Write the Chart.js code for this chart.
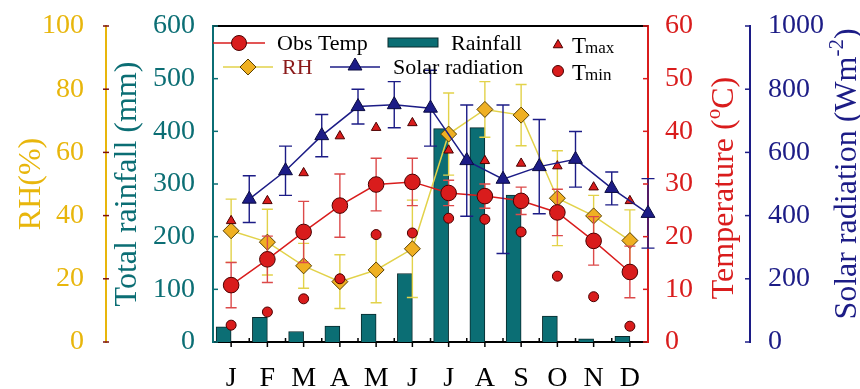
<!DOCTYPE html>
<html>
<head>
<meta charset="utf-8">
<script src="https://cdn.jsdelivr.net/npm/chart.js@4.4.1/dist/chart.umd.min.js"></script>
<style>
  html, body { margin: 0; padding: 0; background: #fff; }
</style>
</head>
<body>
<canvas id="climate" width="860" height="389"></canvas>
<script>
// ==========================
// DATA
// ==========================
const months     = ['J','F','M','A','M','J','J','A','S','O','N','D'];
const rainfall   = [29, 47, 20, 30, 53, 130, 405, 407, 279, 49, 6, 11];
const obsTemp    = [10.8, 15.7, 20.9, 25.9, 29.9, 30.4, 28.3, 27.7, 26.8, 24.6, 19.2, 13.3];
const obsTempErr = [4.3, 4.4, 5.8, 6.0, 5.0, 4.5, 2.4, 2.3, 2.6, 4.4, 4.6, 4.9];
const tMax       = [23.0, 26.8, 32.1, 39.1, 40.7, 41.6, 36.4, 34.4, 33.9, 33.4, 29.4, 26.8];
const tMin       = [3.2, 5.7, 8.2, 12.0, 20.4, 20.7, 23.5, 23.3, 20.9, 12.5, 8.6, 3.0];
const rh         = [35.2, 31.6, 24.1, 19.1, 22.8, 29.5, 65.8, 73.6, 71.8, 45.5, 39.9, 32.1];
const rhErr      = [10, 10.4, 7.1, 8.5, 10.4, 15.4, 13, 8.8, 9.7, 15, 6.5, 9.7];
const solar      = [452, 542, 653, 745, 751, 740, 574, 515, 555, 578, 486, 407];
const solarErr   = [74, 78, 67, 55, 73, 120, 176, 235, 149, 88, 52, 110];

// axis ranges
const rhMax = 100, rhStep = 20;
const rainMax = 600, rainStep = 100;
const tempMax = 60, tempStep = 10;
const solarMax = 1000, solarStep = 200;

// colours
const RED = '#d91c1c', RED_EDGE = '#4a0000';
const TEAL = '#0b6e74', TEAL_EDGE = '#0a2a2c';
const GOLD = '#e8b60c', RH_LINE = '#e2d24a', RH_FILL = '#efb022', RH_EDGE = '#5a4000';
const NAVY = '#1c1c86';
const SERIF = "'Liberation Serif', 'DejaVu Serif', serif";

// solar radiation is plotted half a month to the right of the month centre
const solarPoints = solar.map((v, i) => ({ x: i + 1, y: v }));

// ==========================
// PLUGINS
// ==========================
const errorBars = {
  id: 'errorBars',
  beforeDatasetDraw(chart, args) {
    const ds = chart.data.datasets[args.index];
    if (!ds.errors) return;
    const meta = args.meta;
    const y = chart.scales[meta.yAxisID];
    const ctx = chart.ctx;
    const w = ds.capHalf || 5.5;
    ctx.save();
    ctx.strokeStyle = ds.errorColor;
    ctx.lineWidth = 1.4;
    meta.data.forEach((pt, i) => {
      const d = ds.data[i];
      const val = typeof d === 'object' ? d.y : d;
      const top = y.getPixelForValue(val + ds.errors[i]);
      const bot = y.getPixelForValue(val - ds.errors[i]);
      ctx.beginPath();
      ctx.moveTo(pt.x, top); ctx.lineTo(pt.x, bot);
      ctx.moveTo(pt.x - w, top); ctx.lineTo(pt.x + w, top);
      ctx.moveTo(pt.x - w, bot); ctx.lineTo(pt.x + w, bot);
      ctx.stroke();
    });
    ctx.restore();
  }
};

function seg(ctx, x1, y1, x2, y2) {
  ctx.beginPath(); ctx.moveTo(x1, y1); ctx.lineTo(x2, y2); ctx.stroke();
}

const frameAndTicks = {
  id: 'frameAndTicks',
  afterDraw(chart) {
    const ctx = chart.ctx, a = chart.chartArea, s = chart.scales;
    ctx.save();
    ctx.lineWidth = 2;
    ctx.strokeStyle = '#000';
    seg(ctx, a.left, a.top, a.right, a.top);

    ctx.lineWidth = 1.5;
    const yTicks = (scale, x1, x2, color) => {
      ctx.strokeStyle = color;
      scale.ticks.forEach(t => {
        const y = scale.getPixelForValue(t.value);
        seg(ctx, x1, y, x2, y);
      });
    };
    yTicks(s.yRH, s.yRH.right - 3, s.yRH.right + 3, '#7a1010');
    yTicks(s.yRain, a.left, a.left + 5, TEAL);
    yTicks(s.yTemp, a.right - 5, a.right, RED);
    yTicks(s.ySolar, s.ySolar.left - 5, s.ySolar.left, NAVY);

    ctx.strokeStyle = '#000';
    months.forEach((m, i) => {
      const x = s.x.getPixelForValue(i);
      seg(ctx, x, a.bottom, x, a.bottom + 5);
      if (i > 0) {
        const xb = (x + s.x.getPixelForValue(i - 1)) / 2;
        seg(ctx, xb, a.bottom - 4, xb, a.bottom);
      }
    });
    ctx.restore();
  }
};

// rotated titles on the right side (read bottom to top, with superscripts)
function rotatedTitle(ctx, cx, cy, parts, color) {
  ctx.save();
  ctx.translate(cx, cy);
  ctx.rotate(-Math.PI / 2);
  ctx.fillStyle = color;
  ctx.textBaseline = 'alphabetic';
  ctx.textAlign = 'left';
  let total = 0;
  parts.forEach(p => { ctx.font = p.size + 'px ' + SERIF; p.w = ctx.measureText(p.t).width; total += p.w; });
  let x = -total / 2;
  parts.forEach(p => {
    ctx.font = p.size + 'px ' + SERIF;
    ctx.fillText(p.t, x, 10.5 + (p.rise || 0));
    x += p.w;
  });
  ctx.restore();
}

function drawMarker(ctx, type, x, y, r, fill, edge) {
  ctx.beginPath();
  if (type === 'circle') ctx.arc(x, y, r, 0, Math.PI * 2);
  if (type === 'diamond') { ctx.moveTo(x - r, y); ctx.lineTo(x, y - r); ctx.lineTo(x + r, y); ctx.lineTo(x, y + r); ctx.closePath(); }
  if (type === 'triangle') {
    const h = r * Math.sqrt(3) / 2;
    ctx.moveTo(x, y - r); ctx.lineTo(x + h, y + r / 2); ctx.lineTo(x - h, y + r / 2); ctx.closePath();
  }
  ctx.fillStyle = fill; ctx.fill();
  ctx.strokeStyle = edge; ctx.lineWidth = 1; ctx.stroke();
}

const legendAndTitles = {
  id: 'legendAndTitles',
  afterDraw(chart) {
    const ctx = chart.ctx;
    ctx.save();
    ctx.font = '22px ' + SERIF;
    ctx.textBaseline = 'alphabetic';
    ctx.textAlign = 'left';
    ctx.lineWidth = 1.5;

    // row 1
    ctx.strokeStyle = RED; seg(ctx, 213, 43, 265, 43);
    drawMarker(ctx, 'circle', 239, 43, 7.5, RED, RED_EDGE);
    ctx.fillStyle = '#000'; ctx.fillText('Obs Temp', 277, 50);
    ctx.fillStyle = TEAL; ctx.fillRect(388, 38, 50, 9);
    ctx.strokeStyle = TEAL_EDGE; ctx.lineWidth = 1; ctx.strokeRect(388, 38, 50, 9);
    ctx.fillStyle = '#000'; ctx.fillText('Rainfall', 451, 50);

    // row 2
    ctx.lineWidth = 1.5;
    ctx.strokeStyle = RH_LINE; seg(ctx, 223, 67, 273, 67);
    drawMarker(ctx, 'diamond', 248, 67, 8, RH_FILL, RH_EDGE);
    ctx.fillStyle = '#8b1a1a'; ctx.fillText('RH', 282, 74);
    ctx.lineWidth = 1.5;
    ctx.strokeStyle = NAVY; seg(ctx, 330, 67, 380, 67);
    drawMarker(ctx, 'triangle', 355, 66, 8, NAVY, '#0a0a40');
    ctx.fillStyle = '#000'; ctx.fillText('Solar radiation', 393, 74);

    // Tmax / Tmin
    drawMarker(ctx, 'triangle', 558, 45, 5.5, RED, RED_EDGE);
    drawMarker(ctx, 'circle', 558, 71, 5.5, RED, RED_EDGE);
    ctx.fillStyle = '#000';
    ctx.font = '23px ' + SERIF; ctx.fillText('T', 572, 53);
    ctx.fillText('T', 572, 80);
    ctx.font = '17px ' + SERIF; ctx.fillText('max', 585, 53);
    ctx.fillText('min', 585, 80);

    // right axis titles
    rotatedTitle(ctx, 722, 188, [
      { t: 'Temperature (', size: 32 },
      { t: 'o', size: 21, rise: -13 },
      { t: 'C)', size: 32 }
    ], RED);
    rotatedTitle(ctx, 845, 174, [
      { t: 'Solar radiation (Wm', size: 32 },
      { t: '-2', size: 21, rise: -13 },
      { t: ')', size: 32 }
    ], NAVY);
    ctx.restore();
  }
};

// ==========================
// AXES
// ==========================
function yAxis(opts) {
  return {
    position: opts.position,
    weight: opts.weight,
    min: 0,
    max: opts.max,
    grid: { display: false, drawTicks: false },
    border: { display: true, color: opts.borderColor, width: 2 },
    ticks: {
      stepSize: opts.step,
      color: opts.color,
      padding: opts.padding,
      font: { family: SERIF, size: 28 },
      callback: v => String(v)
    },
    title: opts.title ? {
      display: true,
      text: opts.title,
      color: opts.color,
      padding: { top: opts.titlePad, bottom: 0 },
      font: { family: SERIF, size: 32 }
    } : { display: false },
    afterFit: s => {
      s.width = opts.width;
      s.paddingTop = 0;
      s.paddingBottom = 0;
    }
  };
}

// ==========================
// CHART
// ==========================
new Chart(document.getElementById('climate'), {
  data: {
    labels: months,
    datasets: [
      {
        type: 'bar', label: 'Rainfall', data: rainfall, yAxisID: 'yRain', order: 6,
        backgroundColor: TEAL, borderColor: TEAL_EDGE, borderWidth: 1,
        barThickness: 15
      },
      {
        type: 'line', label: 'RH', data: rh, yAxisID: 'yRH', order: 5,
        borderColor: RH_LINE, borderWidth: 1.5, tension: 0,
        pointStyle: 'rectRot', pointRadius: 8, pointBackgroundColor: RH_FILL,
        pointBorderColor: RH_EDGE, pointBorderWidth: 1,
        errors: rhErr, errorColor: RH_LINE, clip: false
      },
      {
        type: 'line', label: 'Obs Temp', data: obsTemp, yAxisID: 'yTemp', order: 4,
        borderColor: RED, borderWidth: 1.5, tension: 0,
        pointStyle: 'circle', pointRadius: 7.8, pointBackgroundColor: RED,
        pointBorderColor: RED_EDGE, pointBorderWidth: 1,
        errors: obsTempErr, errorColor: '#dc4a4a', clip: false
      },
      {
        type: 'line', label: 'Tmax', data: tMax, yAxisID: 'yTemp', order: 3, showLine: false,
        pointStyle: 'triangle', pointRadius: 5.5, pointBackgroundColor: RED,
        pointBorderColor: RED_EDGE, pointBorderWidth: 1, clip: false
      },
      {
        type: 'line', label: 'Tmin', data: tMin, yAxisID: 'yTemp', order: 3, showLine: false,
        pointStyle: 'circle', pointRadius: 5, pointBackgroundColor: RED,
        pointBorderColor: RED_EDGE, pointBorderWidth: 1, clip: false
      },
      {
        type: 'line', label: 'Solar radiation', data: solarPoints, xAxisID: 'xSolar', yAxisID: 'ySolar', order: 1,
        borderColor: NAVY, borderWidth: 1.5, tension: 0,
        pointStyle: 'triangle', pointRadius: 8, pointBackgroundColor: NAVY,
        pointBorderColor: '#0a0a40', pointBorderWidth: 1,
        errors: solarErr, errorColor: NAVY, capHalf: 6.5, clip: false
      }
    ]
  },
  options: {
    responsive: false,
    animation: false,
    events: [],
    layout: { padding: { top: 26, left: 0, right: 0, bottom: 0 } },
    plugins: { legend: { display: false }, tooltip: { enabled: false } },
    scales: {
      x: {
        type: 'category',
        offset: true,
        grid: { display: false, drawTicks: false },
        border: { display: true, color: '#000', width: 2 },
        ticks: { color: '#000', padding: 20, font: { family: SERIF, size: 28 } },
        afterFit: s => {
          s.height = 47;
          s.paddingLeft = 0;
          s.paddingRight = 0;
        }
      },
      xSolar: {
        type: 'linear', display: false, min: 0, max: months.length
      },
      yRH: yAxis({ position: 'left', weight: 1, max: rhMax, step: rhStep, color: GOLD, borderColor: GOLD,
                   padding: 22, width: 106, title: 'RH(%)', titlePad: 12 }),
      yRain: yAxis({ position: 'left', weight: 0, max: rainMax, step: rainStep, color: TEAL, borderColor: TEAL,
                     padding: 18, width: 107, title: 'Total rainfall (mm)', titlePad: 2 }),
      yTemp: yAxis({ position: 'right', weight: 0, max: tempMax, step: tempStep, color: RED, borderColor: RED,
                     padding: 17, width: 102 }),
      ySolar: yAxis({ position: 'right', weight: 1, max: solarMax, step: solarStep, color: NAVY, borderColor: NAVY,
                      padding: 18, width: 110 })
    }
  },
  plugins: [errorBars, frameAndTicks, legendAndTitles]
});
</script>
</body>
</html>
